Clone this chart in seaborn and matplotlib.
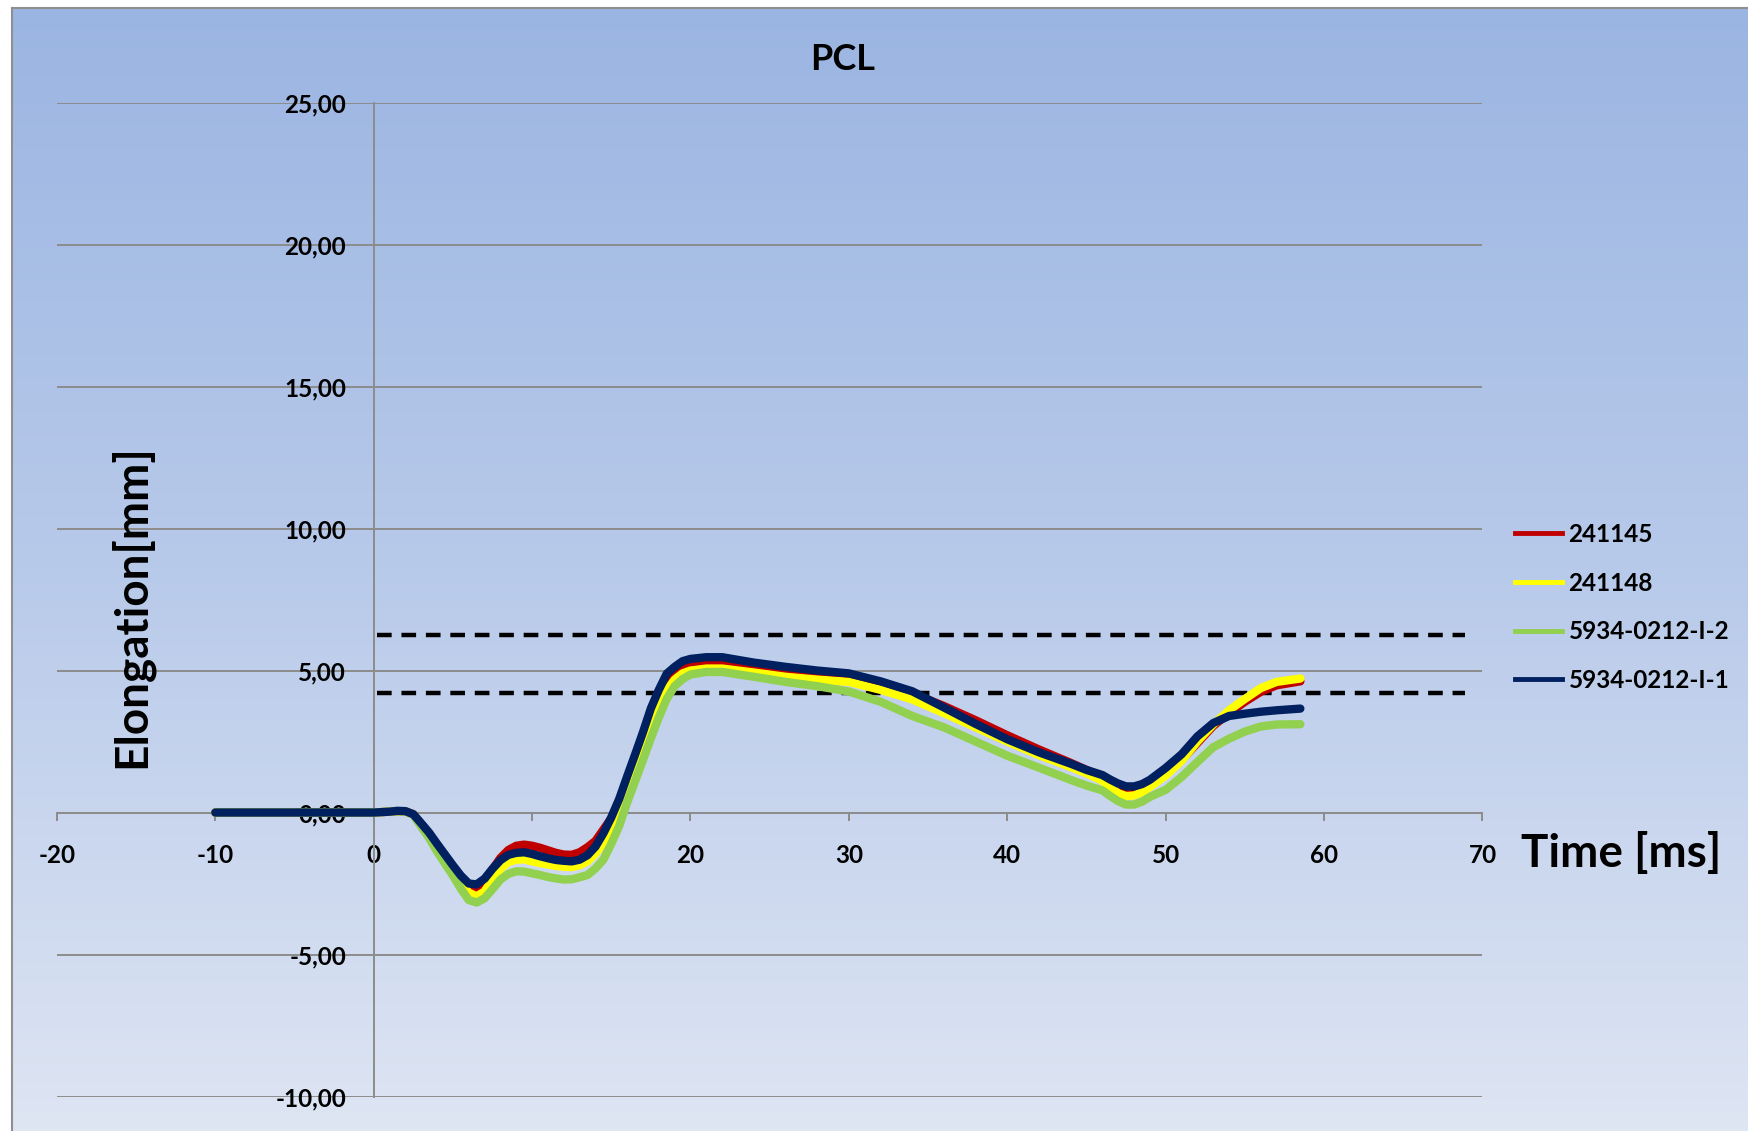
import numpy as np
import pandas as pd
import matplotlib
matplotlib.use("Agg")
import matplotlib.pyplot as plt
from matplotlib.lines import Line2D
from matplotlib.colors import LinearSegmentedColormap
import seaborn as sns

# ---------------- data ----------------
time_ms = [-10, -5, 0, 1, 1.5, 2, 2.5, 3,
           3.5, 4, 4.5, 5, 5.5, 6, 6.5, 7,
           7.5, 8, 8.5, 9, 9.5, 10, 10.5, 11,
           11.5, 12, 12.5, 13, 13.5, 14, 14.5, 15,
           15.5, 16, 16.5, 17, 17.5, 18, 18.5, 19,
           19.5, 20, 21, 22, 24, 26, 28, 30,
           32, 34, 36, 38, 40, 42, 44, 45,
           46, 46.5, 47, 47.5, 48, 48.5, 49, 50,
           51, 52, 53, 54, 55, 56, 57, 58.5]

s_241145 = [0, 0, 0, 0.03, 0.05, 0.04, -0.06, -0.40,
            -0.74, -1.15, -1.55, -1.95, -2.33, -2.62, -2.68, -2.45,
            -2.00, -1.60, -1.32, -1.17, -1.13, -1.17, -1.24, -1.33,
            -1.42, -1.48, -1.49, -1.40, -1.22, -1.00, -0.60, -0.20,
            0.40, 1.10, 1.85, 2.60, 3.45, 4.15, 4.70, 5.00,
            5.15, 5.22, 5.26, 5.25, 5.10, 4.96, 4.85, 4.76,
            4.50, 4.20, 3.75, 3.25, 2.72, 2.22, 1.75, 1.50,
            1.25, 1.05, 0.85, 0.72, 0.72, 0.80, 0.95, 1.35,
            1.85, 2.45, 3.05, 3.50, 3.90, 4.25, 4.48, 4.62]

s_241148 = [0, 0, 0, 0.03, 0.05, 0.04, -0.07, -0.42,
            -0.78, -1.20, -1.62, -2.05, -2.48, -2.82, -2.95, -2.78,
            -2.35, -1.98, -1.75, -1.66, -1.65, -1.72, -1.78, -1.83,
            -1.88, -1.91, -1.92, -1.86, -1.72, -1.45, -1.05, -0.55,
            0.00, 0.65, 1.40, 2.15, 2.95, 3.70, 4.30, 4.68,
            4.90, 5.00, 5.07, 5.07, 4.93, 4.78, 4.68, 4.60,
            4.32, 3.98, 3.50, 3.00, 2.50, 2.02, 1.60, 1.38,
            1.12, 0.90, 0.68, 0.58, 0.60, 0.72, 0.90, 1.30,
            1.82, 2.50, 3.10, 3.60, 4.00, 4.38, 4.60, 4.72]

s_5934_2 = [0, 0, 0, 0.03, 0.05, 0.04, -0.08, -0.50,
            -0.90, -1.37, -1.80, -2.22, -2.68, -3.08, -3.17, -3.02,
            -2.70, -2.36, -2.16, -2.07, -2.08, -2.14, -2.20, -2.27,
            -2.32, -2.36, -2.35, -2.28, -2.20, -1.97, -1.66, -1.10,
            -0.47, 0.35, 1.10, 1.85, 2.62, 3.35, 4.00, 4.45,
            4.70, 4.86, 4.95, 4.95, 4.78, 4.60, 4.45, 4.26,
            3.90, 3.40, 3.00, 2.50, 2.00, 1.58, 1.15, 0.95,
            0.78, 0.58, 0.40, 0.28, 0.28, 0.38, 0.55, 0.80,
            1.25, 1.78, 2.30, 2.60, 2.85, 3.03, 3.10, 3.11]

s_5934_1 = [0, 0, 0, 0.03, 0.06, 0.05, -0.06, -0.38,
            -0.71, -1.10, -1.48, -1.86, -2.22, -2.50, -2.53, -2.33,
            -1.98, -1.68, -1.49, -1.42, -1.40, -1.46, -1.54, -1.61,
            -1.67, -1.70, -1.72, -1.66, -1.50, -1.20, -0.73, -0.17,
            0.48, 1.27, 2.04, 2.83, 3.67, 4.32, 4.89, 5.13,
            5.33, 5.41, 5.47, 5.47, 5.28, 5.13, 5.00, 4.90,
            4.62, 4.27, 3.70, 3.12, 2.58, 2.12, 1.72, 1.50,
            1.32, 1.16, 1.02, 0.92, 0.92, 1.00, 1.15, 1.57,
            2.05, 2.68, 3.15, 3.40, 3.48, 3.55, 3.60, 3.66]

series_names = ["241145", "241148", "5934-0212-I-2", "5934-0212-I-1"]
series_values = [s_241145, s_241148, s_5934_2, s_5934_1]
series_colors = ["#C00000", "#FFFF00", "#92D050", "#002060"]

limit_upper = 6.25
limit_lower = 4.2
limit_x = [0.2, 68.9]

x_ticks = [-20, -10, 0, 10, 20, 30, 40, 50, 60, 70]
y_ticks = [-10, -5, 0, 5, 10, 15, 20, 25]
y_tick_labels = ["-10,00", "-5,00", "0,00", "5,00", "10,00", "15,00", "20,00", "25,00"]

title = "PCL"
x_label = "Time [ms]"
y_label = "Elongation[mm]"

# ---------------- figure ----------------
W, H = 1749, 1131
fig = plt.figure(figsize=(W / 100, H / 100), dpi=100)
fig.patch.set_facecolor("white")
FONT = ["Lato", "DejaVu Sans"]
plt.rcParams["font.family"] = FONT

# gradient background
bg = fig.add_axes([12 / W, 0, 1 - 12 / W, 1 - 8 / H], zorder=-5)
cmap = LinearSegmentedColormap.from_list("bg", ["#9BB5E2", "#B8CAEA", "#DEE5F3"])
grad = np.linspace(0, 1, 256).reshape(-1, 1)
bg.imshow(grad, aspect="auto", cmap=cmap, extent=[0, 1, 0, 1], origin="upper")
bg.set_xlim(0, 1); bg.set_ylim(0, 1)
bg.set_xticks([]); bg.set_yticks([])
for sp in ["right", "bottom"]:
    bg.spines[sp].set_visible(False)
for sp in ["left", "top"]:
    bg.spines[sp].set_color("#8f8f8f")
    bg.spines[sp].set_linewidth(1.5)

# plot axes
x0, x1 = 56.9, 1482.5
y0, y1 = 102.6, 1096.5
ax = fig.add_axes([x0 / W, 1 - y1 / H, (x1 - x0) / W, (y1 - y0) / H])
ax.set_facecolor("none")

rows = []
for name, vals in zip(series_names, series_values):
    for t, v in zip(time_ms, vals):
        rows.append({"time": t, "value": v, "series": name})
df = pd.DataFrame(rows)

sns.lineplot(data=df, x="time", y="value", hue="series", hue_order=series_names,
             palette=dict(zip(series_names, series_colors)), linewidth=6.0,
             legend=False, ax=ax, sort=False, zorder=3,
             solid_capstyle="round", solid_joinstyle="round")

for yv in (limit_upper, limit_lower):
    ax.plot(limit_x, [yv, yv], color="black", lw=3.2, dashes=(3.3, 2.2), zorder=2)

ax.set_xlim(-20, 70)
ax.set_ylim(-10, 25)
ax.set_xticks(x_ticks)
ax.set_xticklabels([str(v) for v in x_ticks])
ax.set_yticks(y_ticks)
ax.set_yticklabels(y_tick_labels)
ax.set_xlabel("")
ax.set_ylabel("")

grid_c = "#8c8c8c"
ax.yaxis.grid(True, color=grid_c, lw=1.4, zorder=0)
ax.xaxis.grid(False)
ax.set_axisbelow(True)
for sp in ["top", "right"]:
    ax.spines[sp].set_visible(False)
ax.spines["left"].set_position(("data", 0))
ax.spines["bottom"].set_position(("data", 0))
for sp in ["left", "bottom"]:
    ax.spines[sp].set_color(grid_c)
    ax.spines[sp].set_linewidth(1.4)
    ax.spines[sp].set_zorder(1)

ax.tick_params(axis="y", length=0, pad=20, labelsize=17.5)
ax.tick_params(axis="x", direction="out", length=6, width=1.4, color=grid_c,
               pad=17, labelsize=17.5)
for lab in ax.get_xticklabels() + ax.get_yticklabels():
    lab.set_fontweight("bold")
    lab.set_color("black")

fig.text(843 / W, 1 - 59 / H, title, ha="center", va="center",
         fontsize=26, fontweight="bold")
fig.text(1621 / W, 1 - 853 / H, x_label, ha="center", va="center",
         fontsize=33, fontweight="bold")
fig.text(131 / W, 1 - 606 / H, y_label, ha="center", va="center",
         rotation=90, fontsize=33, fontweight="bold")

handles = [Line2D([0], [0], color=c, lw=3.5) for c in series_colors]
leg = fig.legend(handles, series_names, loc="upper left",
                 bbox_to_anchor=(1515 / W, 1 - 523 / H), frameon=False,
                 borderpad=0, borderaxespad=0, handlelength=1.95,
                 handletextpad=0.25, labelspacing=1.05,
                 prop={"family": FONT, "weight": "bold", "size": 17.5})

fig.savefig("out.png", dpi=100)
